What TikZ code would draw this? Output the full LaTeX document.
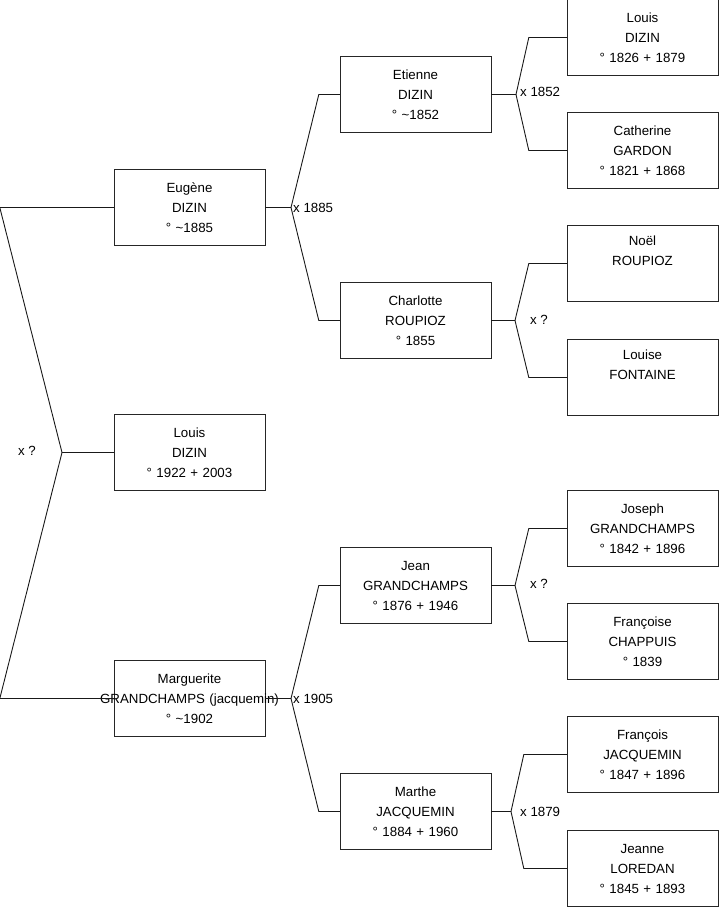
\documentclass[tikz,border=0pt]{standalone}
\usepackage{fontspec}
\setmainfont{Liberation Sans}
\usetikzlibrary{positioning}

\tikzset{
  person/.style={draw=black!85,rectangle,minimum width=151pt,minimum height=76pt,
    inner sep=0pt,text width=148pt,align=center,font=\fontsize{13.3}{20}\selectfont},
  union/.style={inner sep=0pt,font=\fontsize{13.3}{15}\selectfont},
  link/.style={draw=black!90,line width=0.9pt}
}

\begin{document}
\begin{tikzpicture}[x=1pt,y=-1pt]
\useasboundingbox (0,0) rectangle (719,908);
% generation 1
\node[person] (louisA) at (189.5,452.5) {Louis\\DIZIN\\° 1922 + 2003};
% generation 2
\node[person] (eugene) at (189.5,207.5) {Eugène\\DIZIN\\° \textasciitilde1885};
\node[person] (marguerite) at (189.5,698.5) {Marguerite\\\makebox[0pt]{GRANDCHAMPS (jacquemin)}\\° \textasciitilde1902};
% generation 3
\node[person] (etienne) at (415.5,94.5) {Etienne\\DIZIN\\° \textasciitilde1852};
\node[person] (charlotte) at (415.5,320.5) {Charlotte\\ROUPIOZ\\° 1855};
\node[person] (jean) at (415.5,585.5) {Jean\\GRANDCHAMPS\\° 1876 + 1946};
\node[person] (marthe) at (415.5,811.5) {Marthe\\JACQUEMIN\\° 1884 + 1960};
% generation 4
\node[person] (louisB) at (642.5,37.5) {Louis\\DIZIN\\° 1826 + 1879};
\node[person] (catherine) at (642.5,150.5) {Catherine\\GARDON\\° 1821 + 1868};
\node[person] (noel) at (642.5,263.5) {Noël\\ROUPIOZ\\\strut};
\node[person] (louise) at (642.5,377.5) {Louise\\FONTAINE\\\strut};
\node[person] (joseph) at (642.5,528.5) {Joseph\\GRANDCHAMPS\\° 1842 + 1896};
\node[person] (francoise) at (642.5,641.5) {Françoise\\CHAPPUIS\\° 1839};
\node[person] (francois) at (642.5,754.5) {François\\JACQUEMIN\\° 1847 + 1896};
\node[person] (jeanne) at (642.5,868.5) {Jeanne\\LOREDAN\\° 1845 + 1893};

% unions
\coordinate (u0) at (62,452.5);
\coordinate (u1) at (291,207.5);
\coordinate (u2) at (291,698.5);
\coordinate (u3) at (516,94.5);
\coordinate (u4) at (515,320.5);
\coordinate (u5) at (515,585.5);
\coordinate (u6) at (511,811.5);

\draw[link] (louisA) -- (u0);
\draw[link] (eugene.west) -- ++(-114,0) -- (u0) -- ([xshift=-114pt]marguerite.west) -- (marguerite.west);
\draw[link] (eugene.east) -- (u1);
\draw[link] (etienne.west) -- ++(-21,0) -- (u1) -- ([xshift=-21pt]charlotte.west) -- (charlotte.west);
\draw[link] (marguerite.east) -- (u2);
\draw[link] (jean.west) -- ++(-21,0) -- (u2) -- ([xshift=-21pt]marthe.west) -- (marthe.west);
\draw[link] (etienne.east) -- (u3);
\draw[link] (louisB.west) -- ++(-38,0) -- (u3) -- ([xshift=-38pt]catherine.west) -- (catherine.west);
\draw[link] (charlotte.east) -- (u4);
\draw[link] (noel.west) -- ++(-38,0) -- (u4) -- ([xshift=-38pt]louise.west) -- (louise.west);
\draw[link] (jean.east) -- (u5);
\draw[link] (joseph.west) -- ++(-38,0) -- (u5) -- ([xshift=-38pt]francoise.west) -- (francoise.west);
\draw[link] (marthe.east) -- (u6);
\draw[link] (francois.west) -- ++(-43,0) -- (u6) -- ([xshift=-43pt]jeanne.west) -- (jeanne.west);

% union labels
\node[union] (x0) at (27,451) {x ?};
\node[union,anchor=west] (x1) at ([xshift=2pt]u1) {x 1885};
\node[union,anchor=west] (x2) at ([xshift=2pt]u2) {x 1905};
\node[union,anchor=west] (x3) at ([xshift=4pt,yshift=3pt]u3) {x 1852};
\node[union] (x4) at (539,320) {x ?};
\node[union] (x5) at (539,584) {x ?};
\node[union,anchor=west] (x6) at ([xshift=9pt]u6) {x 1879};
\end{tikzpicture}
\end{document}
